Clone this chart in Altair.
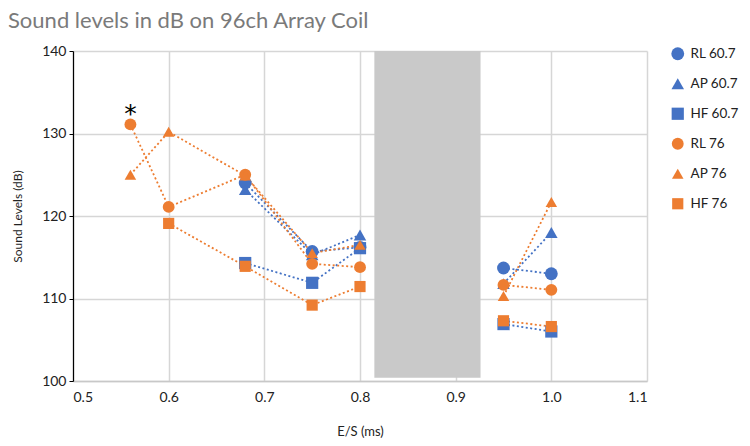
import altair as alt
import pandas as pd

# ---- data ----
es_ms = [0.56, 0.6, 0.68, 0.75, 0.8, 0.95, 1.0]
series_names = ["RL 60.7", "AP 60.7", "HF 60.7", "RL 76", "AP 76", "HF 76"]
rl_607 = [None, None, 124.0, 115.7, 116.2, 113.7, 113.0]
ap_607 = [None, None, 123.2, 115.3, 117.7, 111.8, 118.0]
hf_607 = [None, None, 114.3, 111.9, 116.1, 106.9, 106.0]
rl_76 = [131.1, 121.1, 125.0, 114.2, 113.8, 111.65, 111.05]
ap_76 = [125.0, 130.2, 124.9, 115.5, 116.5, 110.3, 121.7]
hf_76 = [None, 119.1, 113.9, 109.2, 111.45, 107.3, 106.6]
segment = [1, 1, 1, 1, 1, 2, 2]

band_start = [0.815]
band_end = [0.926]
band_low = [100.4]
band_high = [140.0]

note_x = [0.56]
note_y = [131.1]
note_text = ["*"]

x_ticks = [0.5, 0.6, 0.7, 0.8, 0.9, 1.0, 1.1]
y_ticks = [100, 110, 120, 130, 140]

BLUE = "#4472C4"
ORANGE = "#ED7D31"
colors = [BLUE, BLUE, BLUE, ORANGE, ORANGE, ORANGE]
shapes = ["circle", "triangle-up", "square", "circle", "triangle-up", "square"]
sizes = [165, 125, 80, 165, 125, 80]

rows = []
for name, vals in zip(series_names, [rl_607, ap_607, hf_607, rl_76, ap_76, hf_76]):
    for x, v, s in zip(es_ms, vals, segment):
        if v is not None:
            rows.append({"es": x, "db": v, "series": name, "seg": f"{name}_{s}"})
df = pd.DataFrame(rows)

band_df = pd.DataFrame({"x": band_start, "x2": band_end, "y": band_low, "y2": band_high})
note_df = pd.DataFrame({"x": note_x, "y": note_y, "t": note_text})

FONT = "Lato"

xscale = alt.Scale(domain=[0.5, 1.1], nice=False, zero=False)
yscale = alt.Scale(domain=[100, 140], nice=False, zero=False)

xaxis = alt.Axis(values=x_ticks, format=".1f", title="E/S (ms)", grid=True,
                 gridColor="#D6D6D6", gridWidth=1.5, domainColor="#C8C8C8", domainWidth=1.5,
                 ticks=False, labelPadding=9, labelFontSize=14, labelColor="#222",
                 titleFontSize=13, titleFontWeight="normal", titleColor="#222", titlePadding=21,
                 labelFont=FONT, titleFont=FONT)
yaxis = alt.Axis(values=y_ticks, title="Sound Levels (dB)", grid=True,
                 gridColor="#D6D6D6", gridWidth=1.5, domainColor="#000", domainWidth=1.2,
                 ticks=True, tickSize=4, tickColor="#000", labelPadding=3, labelFontSize=14,
                 labelColor="#222", titleFontSize=12, titleFontWeight="normal", titleColor="#222",
                 titlePadding=17, labelFont=FONT, titleFont=FONT)

band = alt.Chart(band_df).mark_rect(color="#C9C9C9").encode(
    x=alt.X("x:Q", scale=xscale, axis=xaxis),
    x2="x2:Q",
    y=alt.Y("y:Q", scale=yscale, axis=yaxis),
    y2="y2:Q",
)

line_layers = []
for name, col in zip(series_names, colors):
    line_layers.append(
        alt.Chart(df).transform_filter(alt.datum.series == name)
        .mark_line(strokeDash=[2, 2.5], strokeWidth=1.8, color=col)
        .encode(
            x=alt.X("es:Q", scale=xscale),
            y=alt.Y("db:Q", scale=yscale),
            detail="seg:N",
            order="es:Q",
        )
    )

legend = alt.Legend(title=None, orient="none", legendX=598, legendY=-4, rowPadding=15,
                    labelFontSize=13.5, labelFont=FONT, labelColor="#222", labelOffset=6,
                    symbolStrokeWidth=0)

points = alt.Chart(df).mark_point(filled=True, opacity=1).encode(
    x=alt.X("es:Q", scale=xscale),
    y=alt.Y("db:Q", scale=yscale),
    color=alt.Color("series:N", scale=alt.Scale(domain=series_names, range=colors), legend=legend),
    shape=alt.Shape("series:N", scale=alt.Scale(domain=series_names, range=shapes), legend=legend),
    size=alt.Size("series:N", scale=alt.Scale(domain=series_names, range=sizes), legend=legend),
)

note = alt.Chart(note_df).mark_text(fontSize=25, font="DejaVu Sans", color="#000", dy=-10).encode(
    x=alt.X("x:Q", scale=xscale),
    y=alt.Y("y:Q", scale=yscale),
    text="t:N",
)

chart = alt.layer(band, *line_layers, points, note).properties(
    width=574,
    height=330,
    autosize=alt.AutoSizeParams(type="none"),
    padding={"left": 65, "top": 43, "right": 95, "bottom": 57},
    title=alt.TitleParams("Sound levels in dB on 96ch Array Coil", anchor="start", frame="group",
                          dx=-65, offset=11, fontSize=22, font=FONT,
                          fontWeight="normal", color="#7A7A7A"),
).configure_view(stroke=None)

chart.save("out.html", embed_options={"renderer": "svg", "actions": False})
